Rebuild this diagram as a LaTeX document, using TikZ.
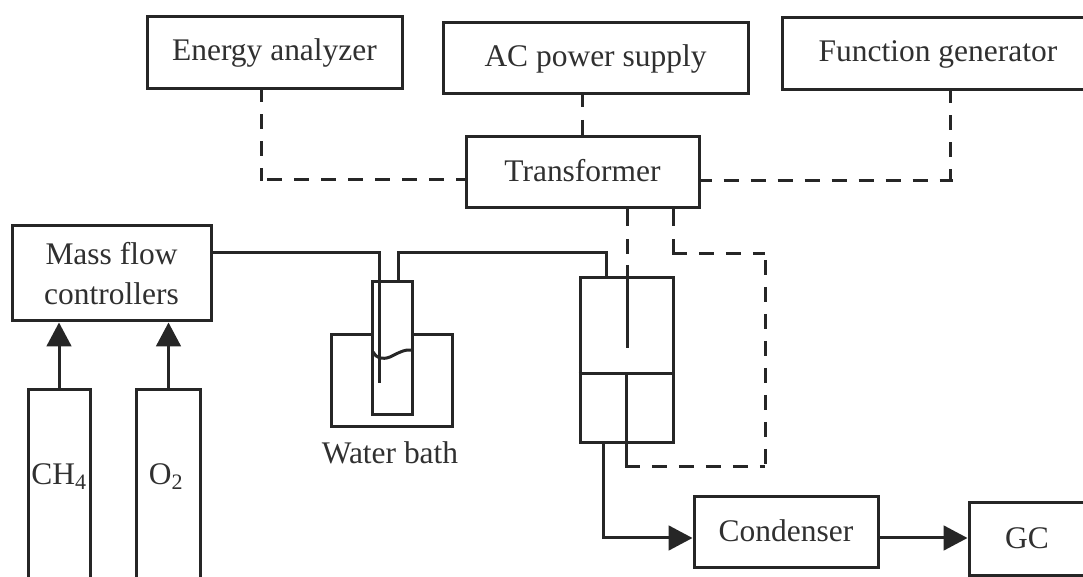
\documentclass[tikz,border=0pt]{standalone}
\usepackage{fontspec}
\setmainfont{Liberation Serif}
\usetikzlibrary{arrows.meta}
\definecolor{ink}{HTML}{262626}
\definecolor{txt}{HTML}{303030}
\tikzset{
  solidline/.style={draw=ink,line width=2.25pt,line join=miter},
  dashline/.style={draw=ink,line width=2.25pt,dash pattern=on 11.25pt off 9pt,dash phase=#1},
  dashline/.default=0pt,
  box/.style n args={2}{solidline,fill=white,text=txt,inner sep=0pt,align=center,
    minimum width=#1*0.75pt,minimum height=#2*0.75pt,font=\fontsize{23.6}{28}\selectfont},
  label/.style={text=txt,inner sep=0pt,font=\fontsize{23.6}{28}\selectfont},
  flowarrow/.style={solidline,-{Triangle[length=18pt,width=18.5pt]}}
}
\begin{document}
\begin{tikzpicture}[x=0.75pt,y=-0.75pt]
\useasboundingbox (0,0) rectangle (1083,577);
% instruments
\node[box={255}{72}] (ea) at (274.5,53) {\raisebox{2pt}{Energy analyzer}};
\node[box={305}{71}] (ac) at (595.5,58.5) {AC power supply};
\node[box={312}{72}] (fg) at (938,54) {\raisebox{2pt}{Function generator}};
\node[box={233}{71}] (tr) at (582.5,172.5) {\raisebox{3pt}{Transformer}};
% gas handling
\node[box={199}{95}] (mfc) at (111.5,273.5) {\raisebox{-3pt}{Mass flow}\\[1.5pt]\raisebox{-3pt}{controllers}};
\node[box={62}{200}] (ch) at (59,490) {};
\node[box={64}{200}] (ox) at (168.5,490) {};
\node[label] (chl) at (59,477) {CH\textsubscript{4}};
\node[label] (oxl) at (166,477) {O\textsubscript{2}};
\draw[flowarrow] (ch.north) -- (ch.north |- mfc.south);
\draw[flowarrow] (ox.north) -- (ox.north |- mfc.south);
% water bath
\node[box={121}{92}] (bath) at (391.5,381) {};
\node[box={40}{133}] (tube) at (392,348.5) {};
\node[label] (bathl) at (390,453) {Water bath};
\coordinate (g1) at (379,253);
\coordinate (g2) at (379,383);
\coordinate (g3) at (398,253);
\coordinate (g4) at (606,253);
\draw[solidline] (mfc.east |- g1) -- (g1) -- (g2);
\draw[solidline] (g3 |- tube.north) -- (g3) -- (g4) -- (g4 |- 0,279);
\draw[solidline] (373,352) .. controls (376,358) and (382,360) .. (390,357) .. controls (398,353) and (405,349) .. (412,350);
% reactor
\node[box={93}{165}] (re) at (626.5,360.5) {};
\coordinate (rm) at (626,374);
\draw[solidline] (re.west |- rm) -- (re.east |- rm);
\coordinate (el) at (627,348);
\coordinate (elt) at (627,265);
\draw[solidline,dash pattern=on 12.75pt off 9.75pt on 11.25pt off 9pt] (el |- tr.south) -- (elt);
\draw[solidline] (elt) -- (el);
\coordinate (d1) at (673,254);
\coordinate (d2) at (765,254);
\coordinate (d3) at (765,467);
\coordinate (d4) at (626,467);
\draw[solidline,dash pattern=on 12.75pt off 9.75pt on 12pt off 9pt] (d1 |- tr.south) -- (d1);
\draw[dashline] ([xshift=-0.8pt]d1) -- (d2);
\draw[dashline=15.75pt] (d2) -- (d3);
\draw[solidline] (rm) -- (d4);
\draw[dashline] ([xshift=-0.8pt]d4) -- (d3);
% condenser and GC
\node[box={184}{70}] (cd) at (786,532) {\raisebox{2pt}{Condenser}};
\node[box={116}{72}] (gc) at (1027,539) {\raisebox{1pt}{GC}};
\coordinate (o1) at (603,538);
\draw[flowarrow] (o1 |- re.south) -- (o1) -- (o1 -| cd.west);
\draw[flowarrow] (cd.east |- o1) -- (o1 -| gc.west);
% electrical
\coordinate (e1) at (261,180);
\draw[dashline=2.25pt] (e1 |- ea.south) -- ([yshift=-0.8pt]e1);
\draw[dashline=15.75pt] (e1) -- ([xshift=2.5pt]e1 -| tr.west);
\coordinate (f1) at (950,181);
\draw[dashline=2.25pt] (f1 |- fg.south) -- ([yshift=-0.8pt]f1);
\draw[dashline=1.5pt] ([xshift=-1.5pt]f1 -| tr.east) -- ([xshift=2pt]f1);
\coordinate (a1) at (582,94);
\draw[solidline,dash pattern=on 9.75pt off 9.75pt on 15pt off 0pt] (a1) -- (a1 |- tr.north);
\end{tikzpicture}
\end{document}
